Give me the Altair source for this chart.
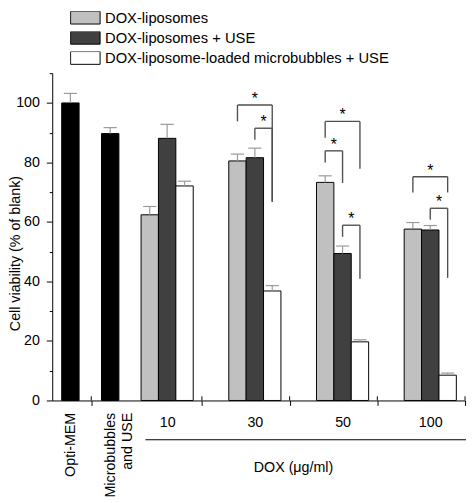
import json
import altair as alt
import pandas as pd

# ---------------- data ----------------
single_labels = ["Opti-MEM", "Microbubbles\nand USE"]
single_values = [100.0, 89.7]
single_errors = [3.2, 2.0]

doses = ["10", "30", "50", "100"]
series = ["DOX-liposomes", "DOX-liposomes + USE", "DOX-liposome-loaded microbubbles + USE"]
lipo_values = [62.4, 80.5, 73.3, 57.6]
lipo_errors = [2.8, 2.3, 2.2, 2.2]
lipo_use_values = [88.1, 81.6, 49.4, 57.3]
lipo_use_errors = [4.7, 3.2, 2.5, 1.5]
mb_use_values = [72.1, 36.8, 19.7, 8.5]
mb_use_errors = [1.6, 1.8, 0.7, 0.7]

# significance brackets: dose, from series index, to series index,
# bracket top, left-leg end, right-leg end (all in % units)
sig_dose = ["30", "30", "50", "50", "50", "100", "100"]
sig_from = [0, 1, 0, 0, 1, 0, 1]
sig_to = [2, 2, 2, 1, 2, 2, 2]
sig_top = [99.3, 91.5, 93.8, 83.9, 58.9, 75.2, 64.6]
sig_left = [93.8, 87.6, 88.3, 80.0, 55.0, 69.9, 60.7]
sig_right = [66.8, 66.8, 77.9, 73.1, 40.9, 69.9, 41.2]

y_title = "Cell viability (% of blank)"
x_title = "DOX (\u03bcg/ml)"

# ---------------- layout / style ----------------
FONT = "Liberation Sans"
FS = 14.5
LEG_FS = 15
PLOT_W, PLOT_H = 420, 333
Y_MAX = 110
SINGLE0, SINGLE_STEP = 1.045, 2.29
GROUP0, GROUP_STEP = 6.61, 5.045
HALF = 0.5
CAP = 0.38
X_MAX = GROUP0 + GROUP_STEP * (len(doses) - 1) + 2.0
COLORS = ["#c0c0c0", "#404040", "#ffffff"]
ERR_COLOR = "#9a9a9a"
SIG_COLOR = "#505050"


def spos(i):
    return SINGLE0 + SINGLE_STEP * i


def gpos(g, s):
    return GROUP0 + GROUP_STEP * g + (s - 1)


rows = []
for i, (lab, v, e) in enumerate(zip(single_labels, single_values, single_errors)):
    rows.append(dict(label=lab, series="single", pos=spos(i), value=v, top=v + e))
group_vals = [lipo_values, lipo_use_values, mb_use_values]
group_errs = [lipo_errors, lipo_use_errors, mb_use_errors]
for s, name in enumerate(series):
    for g, d in enumerate(doses):
        v, e = group_vals[s][g], group_errs[s][g]
        rows.append(dict(label=d, series=name, pos=gpos(g, s), value=v, top=v + e))
bars = pd.DataFrame(rows)
bars["lo"] = bars.pos - HALF
bars["hi"] = bars.pos + HALF
bars["cap_lo"] = bars.pos - CAP
bars["cap_hi"] = bars.pos + CAP
bars["base"] = 0.0

sig = pd.DataFrame(dict(dose=sig_dose, a=sig_from, b=sig_to, top=sig_top,
                        left=sig_left, right=sig_right))
sig["xa"] = [gpos(doses.index(d), a) for d, a in zip(sig.dose, sig.a)]
sig["xb"] = [gpos(doses.index(d), b) for d, b in zip(sig.dose, sig.b)]
sig["xm"] = (sig.xa + sig.xb) / 2
sig["star"] = "*"

bounds = [spos(0) + 1.2] + [GROUP0 + GROUP_STEP * g + 2.0 for g in range(len(doses))]
ticks_df = pd.DataFrame(dict(x=bounds, y0=0.0, y1=1.4))
under_df = pd.DataFrame(dict(x0=[GROUP0 - 1.25], x1=[X_MAX + 0.05], y=[-13.2]))

x_scale = alt.Scale(domain=[0, X_MAX], nice=False, zero=False)
y_scale = alt.Scale(domain=[0, Y_MAX], nice=False, zero=False)

axis_bounds = alt.Axis(orient="bottom", values=bounds, labels=False, tickSize=5,
                       title=None, domain=True)
axis_groups = alt.Axis(orient="bottom",
                       values=[GROUP0 + GROUP_STEP * g for g in range(len(doses))],
                       labelExpr=f"{json.dumps(doses)}[round((datum.value - {GROUP0}) / {GROUP_STEP})]",
                       ticks=False, tickSize=0, domain=False, labelPadding=15,
                       labelBaseline="top", labelAlign="center",
                       title=x_title, titleX=245, titleY=68, titleAngle=0,
                       titleBaseline="middle", titleAlign="center")
axis_singles = alt.Axis(orient="bottom",
                        values=[spos(i) for i in range(len(single_labels))],
                        labelExpr=f"{json.dumps([l.split(chr(10)) for l in single_labels])}[round((datum.value - {SINGLE0}) / {SINGLE_STEP})]",
                        ticks=False, tickSize=0, domain=False, labelPadding=12,
                        labelAngle=270, labelAlign="right", labelBaseline="middle",
                        labelLineHeight=17.5, title=None)
axis_y_major = alt.Axis(orient="left", values=list(range(0, 101, 20)), tickSize=6,
                        labelPadding=7, title=y_title, titleAngle=270,
                        titleX=-33.5, titleY=183, titleBaseline="alphabetic",
                        titleAlign="center")
axis_y_minor = alt.Axis(orient="left", values=list(range(10, Y_MAX + 1, 20)), tickSize=3,
                        labels=False, domain=False, title=None)

single_bars = alt.Chart(bars[bars.series == "single"]).mark_bar(
    fill="black", stroke="black", strokeWidth=1
).encode(
    x=alt.X("lo:Q", scale=x_scale, axis=None), x2="hi:Q",
    y=alt.Y("value:Q", scale=y_scale, axis=axis_y_major), y2="base:Q",
)

group_bars = alt.Chart(bars[bars.series != "single"]).mark_bar(
    stroke="black", strokeWidth=1
).encode(
    x=alt.X("lo:Q", scale=x_scale, axis=axis_bounds), x2="hi:Q",
    y=alt.Y("value:Q", scale=y_scale, axis=None), y2="base:Q",
    fill=alt.Fill("series:N", scale=alt.Scale(domain=series, range=COLORS),
                  legend=alt.Legend(title=None, orient="none", legendX=18.2, legendY=-63,
                                    symbolType="M-1,-0.4333H1V0.4333H-1Z", symbolSize=900,
                                    symbolStrokeColor="black", symbolStrokeWidth=1,
                                    clipHeight=13, rowPadding=4.5, labelOffset=4.5,
                                    labelFont=FONT, labelFontSize=LEG_FS, labelColor="black",
                                    labelLimit=400, padding=0, labelBaseline="middle")),
)

err_stem = alt.Chart(bars).mark_rule(color=ERR_COLOR, strokeWidth=1.2).encode(
    x=alt.X("pos:Q", scale=x_scale, axis=axis_groups),
    y=alt.Y("value:Q", scale=y_scale, axis=axis_y_minor), y2="top:Q",
)
err_cap = alt.Chart(bars).mark_rule(color=ERR_COLOR, strokeWidth=1.2).encode(
    x=alt.X("cap_lo:Q", scale=x_scale, axis=axis_singles), x2="cap_hi:Q",
    y=alt.Y("top:Q", scale=y_scale, axis=None),
)

sig_h = alt.Chart(sig).mark_rule(color=SIG_COLOR, strokeWidth=1.4).encode(
    x=alt.X("xa:Q", scale=x_scale, axis=None), x2="xb:Q",
    y=alt.Y("top:Q", scale=y_scale, axis=None),
)
sig_l = alt.Chart(sig).mark_rule(color=SIG_COLOR, strokeWidth=1.4).encode(
    x=alt.X("xa:Q", scale=x_scale, axis=None),
    y=alt.Y("top:Q", scale=y_scale, axis=None), y2="left:Q",
)
sig_r = alt.Chart(sig).mark_rule(color=SIG_COLOR, strokeWidth=1.4).encode(
    x=alt.X("xb:Q", scale=x_scale, axis=None),
    y=alt.Y("top:Q", scale=y_scale, axis=None), y2="right:Q",
)
stars = alt.Chart(sig).mark_text(font=FONT, fontSize=16, color="black",
                                 baseline="alphabetic", align="center", dy=-1).encode(
    x=alt.X("xm:Q", scale=x_scale, axis=None),
    y=alt.Y("top:Q", scale=y_scale, axis=None),
    text="star:N",
)

up_ticks = alt.Chart(ticks_df).mark_rule(color="black", strokeWidth=1).encode(
    x=alt.X("x:Q", scale=x_scale, axis=None),
    y=alt.Y("y0:Q", scale=y_scale, axis=None), y2="y1:Q",
)
underline = alt.Chart(under_df).mark_rule(color="black", strokeWidth=1.2).encode(
    x=alt.X("x0:Q", scale=x_scale, axis=None), x2="x1:Q",
    y=alt.Y("y:Q", scale=y_scale, axis=None),
)

chart = alt.layer(
    single_bars, group_bars, err_stem, err_cap, sig_h, sig_l, sig_r, stars,
    up_ticks, underline,
).resolve_axis(x="independent", y="independent").properties(
    width=PLOT_W, height=PLOT_H,
    autosize=alt.AutoSizeParams(type="none"),
    padding={"left": 45, "top": 62, "right": 2, "bottom": 100},
).configure_view(stroke=None).configure_axis(
    labelFont=FONT, titleFont=FONT, labelFontSize=FS, titleFontSize=FS,
    labelColor="black", titleColor="black", titleFontWeight="normal",
    domainColor="black", tickColor="black", domainWidth=1, tickWidth=1,
    grid=False, labelOverlap=False, labelFlush=False, labelBound=False,
)

chart.save("out.html", embed_options={"renderer": "svg", "actions": False})
